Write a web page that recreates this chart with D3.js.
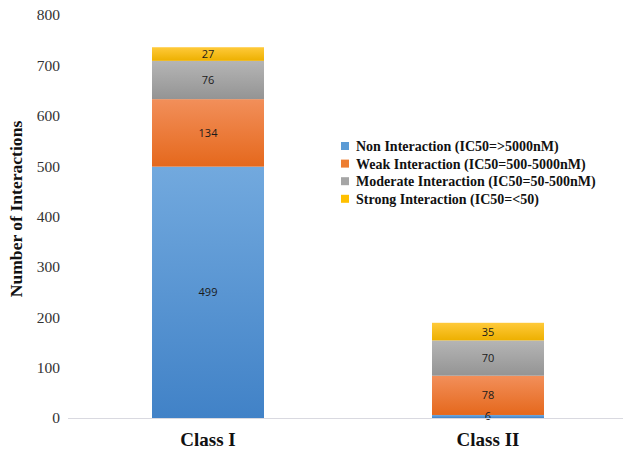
<!DOCTYPE html>
<html>
<head>
<meta charset="utf-8">
<script src="https://cdn.jsdelivr.net/npm/d3@7"></script>
<style>
  html, body { margin: 0; padding: 0; background: #fff; }
  svg { display: block; }
</style>
</head>
<body>
<svg id="chart" width="623" height="450"></svg>
<script>
// Chart data
const categories = ["Class I", "Class II"];
const seriesNames = [
  "Non Interaction (IC50=>5000nM)",
  "Weak Interaction (IC50=500-5000nM)",
  "Moderate Interaction (IC50=50-500nM)",
  "Strong Interaction (IC50=<50)"
];
const nonInteraction = [499, 6];
const weakInteraction = [134, 78];
const moderateInteraction = [76, 70];
const strongInteraction = [27, 35];
const yTicks = [0, 100, 200, 300, 400, 500, 600, 700, 800];

const seriesValues = [nonInteraction, weakInteraction, moderateInteraction, strongInteraction];
const rows = categories.map((c, i) => {
  const r = { category: c };
  seriesNames.forEach((s, k) => { r[s] = seriesValues[k][i]; });
  return r;
});

// Gradient colour pairs (top, bottom) per series
const palette = [
  ["#72a9de", "#4182c7"],
  ["#f28f5a", "#e5681c"],
  ["#b5b5b5", "#949494"],
  ["#ffca3a", "#edb000"]
];
const legendColors = ["#5b9bd5", "#ed7d31", "#a5a5a5", "#ffc000"];

const svg = d3.select("#chart");
const defs = svg.append("defs");
palette.forEach((p, k) => {
  const g = defs.append("linearGradient")
    .attr("id", "grad" + k)
    .attr("x1", 0).attr("y1", 0).attr("x2", 0).attr("y2", 1);
  g.append("stop").attr("offset", "0%").attr("stop-color", p[0]);
  g.append("stop").attr("offset", "100%").attr("stop-color", p[1]);
});

const x = d3.scaleBand()
  .domain(categories)
  .range([68, 628])
  .paddingInner(0.6)
  .paddingOuter(0.3);

const y = d3.scaleLinear()
  .domain([0, 800])
  .range([418, 15]);

const stack = d3.stack().keys(seriesNames);
const stacked = stack(rows);

// Bars
const layers = svg.append("g").selectAll("g")
  .data(stacked)
  .join("g")
  .attr("fill", (d, k) => `url(#grad${k})`);

layers.selectAll("rect")
  .data(d => d)
  .join("rect")
  .attr("x", d => x(d.data.category))
  .attr("width", x.bandwidth())
  .attr("y", d => y(d[1]))
  .attr("height", d => y(d[0]) - y(d[1]));

// Value labels
const labels = svg.append("g")
  .attr("font-family", "'Open Sans', 'Noto Sans', sans-serif")
  .attr("font-size", 11)
  .attr("fill", "#1a1a1a")
  .attr("text-anchor", "middle");
stacked.forEach(layer => {
  layer.forEach(d => {
    labels.append("text")
      .attr("x", x(d.data.category) + x.bandwidth() / 2)
      .attr("y", (y(d[0]) + y(d[1])) / 2)
      .attr("dy", "0.36em")
      .text(d[1] - d[0]);
  });
});

// Baseline
svg.append("line")
  .attr("x1", 68).attr("x2", 623)
  .attr("y1", y(0) + 0.5).attr("y2", y(0) + 0.5)
  .attr("stroke", "#d9d9e0")
  .attr("stroke-width", 1);

// Y axis (labels only)
const yAxis = d3.axisLeft(y).tickValues(yTicks).tickSize(0).tickPadding(0);
const yg = svg.append("g")
  .attr("transform", "translate(60,0)")
  .call(yAxis);
yg.select(".domain").remove();
yg.selectAll("text")
  .attr("font-family", "'Liberation Serif', 'Times New Roman', serif")
  .attr("font-size", 15.5)
  .attr("fill", "#333");

// X axis (labels only)
const xAxis = d3.axisBottom(x).tickSize(0).tickPadding(0);
const xg = svg.append("g")
  .attr("transform", "translate(0,432)")
  .call(xAxis);
xg.select(".domain").remove();
xg.selectAll("text")
  .attr("font-family", "'Liberation Serif', 'Times New Roman', serif")
  .attr("font-size", 19)
  .attr("font-weight", "bold")
  .attr("fill", "#111");

// Y title
svg.append("text")
  .attr("transform", "translate(22,209) rotate(-90)")
  .attr("text-anchor", "middle")
  .attr("font-family", "'Liberation Serif', 'Times New Roman', serif")
  .attr("font-size", 17.6)
  .attr("font-weight", "bold")
  .attr("fill", "#111")
  .text("Number of Interactions");

// Legend
const legend = svg.append("g").attr("transform", "translate(341,146)");
seriesNames.forEach((s, k) => {
  const row = legend.append("g").attr("transform", `translate(0,${k * 17.6})`);
  row.append("rect")
    .attr("x", 0).attr("y", -4)
    .attr("width", 8).attr("height", 8)
    .attr("fill", legendColors[k]);
  row.append("text")
    .attr("x", 15).attr("y", 0).attr("dy", "0.35em")
    .attr("font-family", "'Liberation Serif', 'Times New Roman', serif")
    .attr("font-size", 14)
    .attr("font-weight", "bold")
    .attr("fill", "#111")
    .text(s);
});
</script>
</body>
</html>
